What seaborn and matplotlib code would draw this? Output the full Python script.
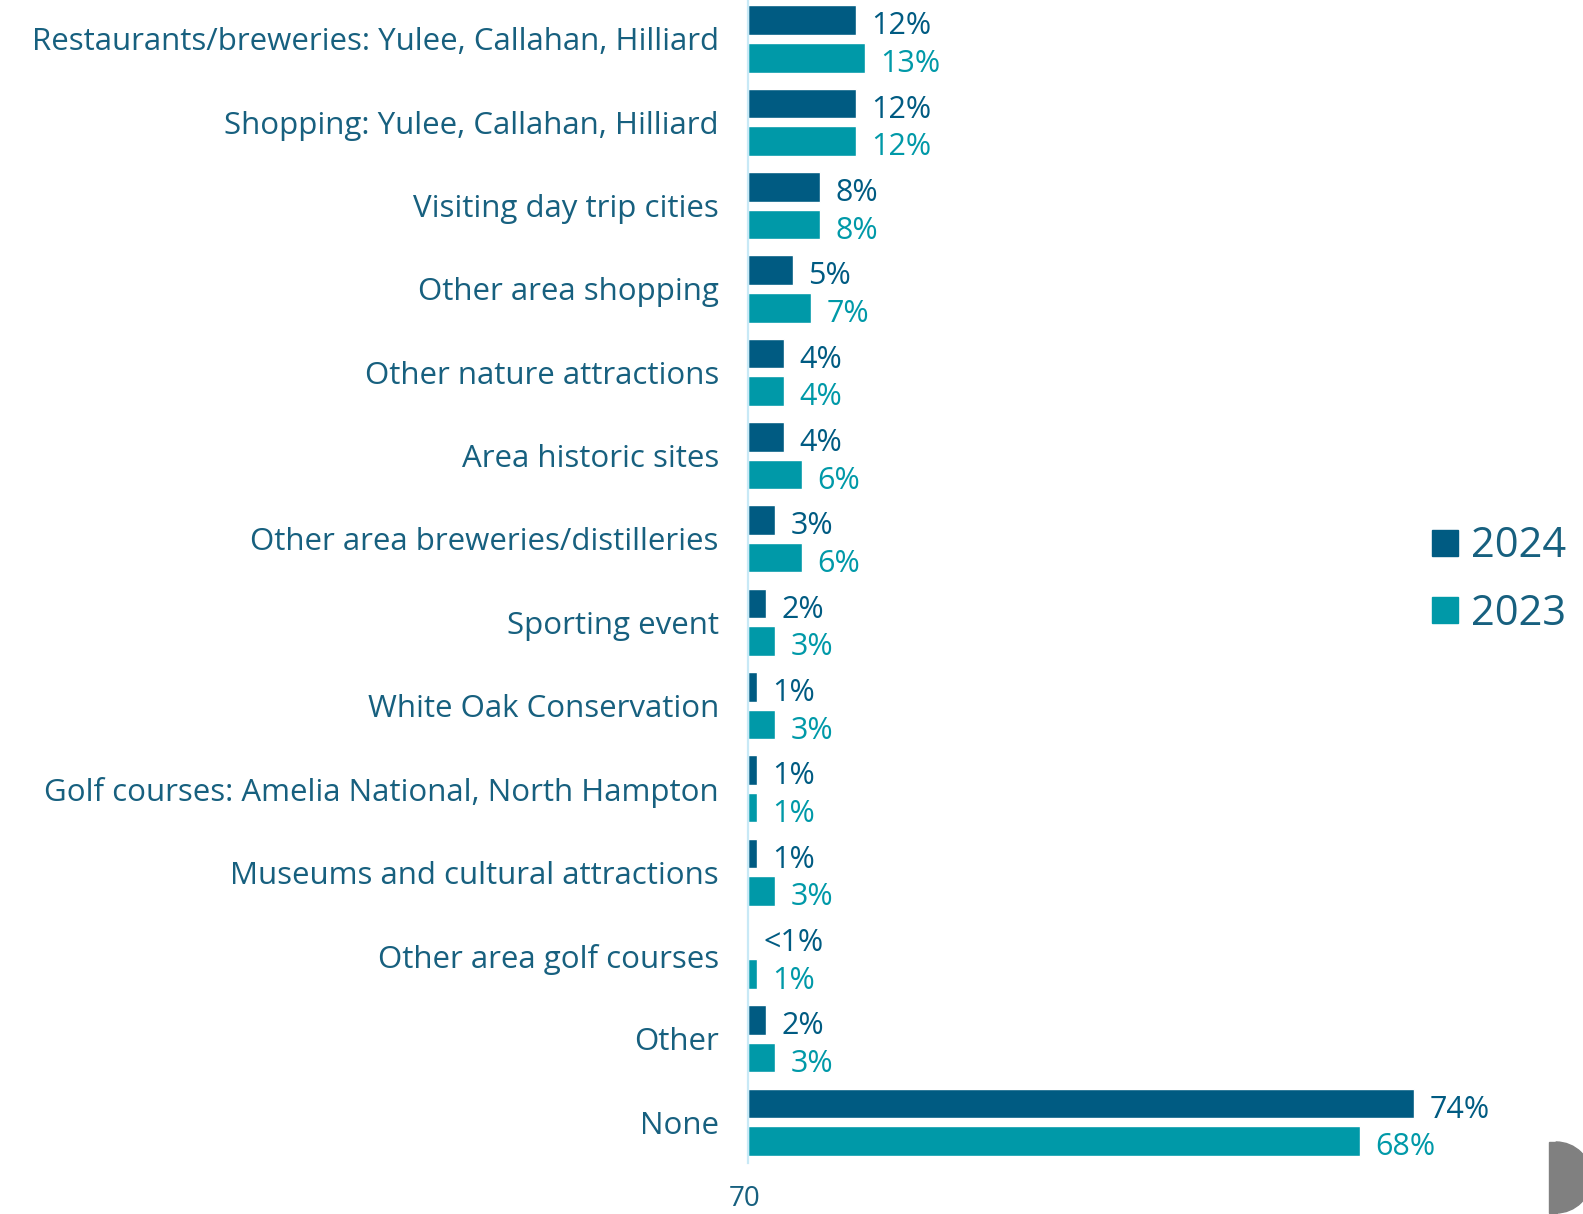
import matplotlib
matplotlib.use("Agg")
import matplotlib.pyplot as plt
import matplotlib.transforms as mtransforms
from matplotlib.patches import Wedge, Rectangle
from matplotlib.lines import Line2D
import pandas as pd
import seaborn as sns

categories = [
    "Restaurants/breweries: Yulee, Callahan, Hilliard",
    "Shopping: Yulee, Callahan, Hilliard",
    "Visiting day trip cities",
    "Other area shopping",
    "Other nature attractions",
    "Area historic sites",
    "Other area breweries/distilleries",
    "Sporting event",
    "White Oak Conservation",
    "Golf courses: Amelia National, North Hampton",
    "Museums and cultural attractions",
    "Other area golf courses",
    "Other",
    "None",
]
values_2024 = [12, 12, 8, 5, 4, 4, 3, 2, 1, 1, 1, 0, 2, 74]
values_2023 = [13, 12, 8, 7, 4, 6, 6, 3, 3, 1, 3, 1, 3, 68]
labels_2024 = ["12%", "12%", "8%", "5%", "4%", "4%", "3%", "2%", "1%", "1%", "1%", "<1%", "2%", "74%"]
labels_2023 = ["13%", "12%", "8%", "7%", "4%", "6%", "6%", "3%", "3%", "1%", "3%", "1%", "3%", "68%"]
years = ["2024", "2023"]

COL_2024 = "#005b82"
COL_2023 = "#0099a8"
TEXT_COL = "#17607f"
AXIS_COL = "#c8e9f6"

sns.set_theme(style="white")
plt.rcParams["font.family"] = ["Open Sans", "DejaVu Sans"]

df = pd.DataFrame({
    "category": categories * 2,
    "value": values_2024 + values_2023,
    "year": ["2024"] * len(categories) + ["2023"] * len(categories),
})

W, H = 1583, 1214
fig = plt.figure(figsize=(W / 100, H / 100), dpi=100)
ax = fig.add_axes([748 / W, 51 / H, 810 / W, 1163 / H])

sns.barplot(
    data=df, y="category", x="value", hue="year", hue_order=years,
    order=categories, palette=[COL_2024, COL_2023], orient="h",
    width=0.9, gap=0.21, legend=False, ax=ax, saturation=1,
)

ax.set_xlim(0, 90)
ax.set_ylim(13.49, -0.468)
ax.set_xlabel("")
ax.set_ylabel("")
ax.set_xticks([])
ax.tick_params(axis="y", length=0, pad=21, labelsize=22.5, labelcolor=TEXT_COL)
for side in ["top", "right", "bottom"]:
    ax.spines[side].set_visible(False)
ax.spines["left"].set_color(AXIS_COL)
ax.spines["left"].set_linewidth(1.6)

for container, labels, col in zip(ax.containers, [labels_2024, labels_2023], [COL_2024, COL_2023]):
    texts = ax.bar_label(container, labels=labels, padding=11, fontsize=22, color=col)
    for t in texts:
        x_off, y_off = t.xyann
        t.xyann = (x_off, y_off - 4.5)

handles = [
    Line2D([], [], marker="s", linestyle="none", markersize=19, color=COL_2024),
    Line2D([], [], marker="s", linestyle="none", markersize=19, color=COL_2023),
]
fig.legend(
    handles, years, loc="center left", bbox_to_anchor=(1431 / W, 1 - 580 / H),
    frameon=False, fontsize=30, labelcolor=TEXT_COL, handlelength=0.65,
    handletextpad=0.3, labelspacing=0.62, borderpad=0, borderaxespad=0,
)

# stray axis tick value at the bottom edge
fig.text(745 / W, 1 - 1206 / H, "70", ha="center", va="baseline", fontsize=20, color=TEXT_COL)

# grey tab in the lower right corner
ident = mtransforms.IdentityTransform()
fig.add_artist(Rectangle((1549, H - 1213), 8, 71, color="#808080", transform=ident))
fig.add_artist(Wedge((1556, H - 1177.5), 35.5, -90, 90, color="#808080", transform=ident))

fig.savefig("out.png", dpi=100)
